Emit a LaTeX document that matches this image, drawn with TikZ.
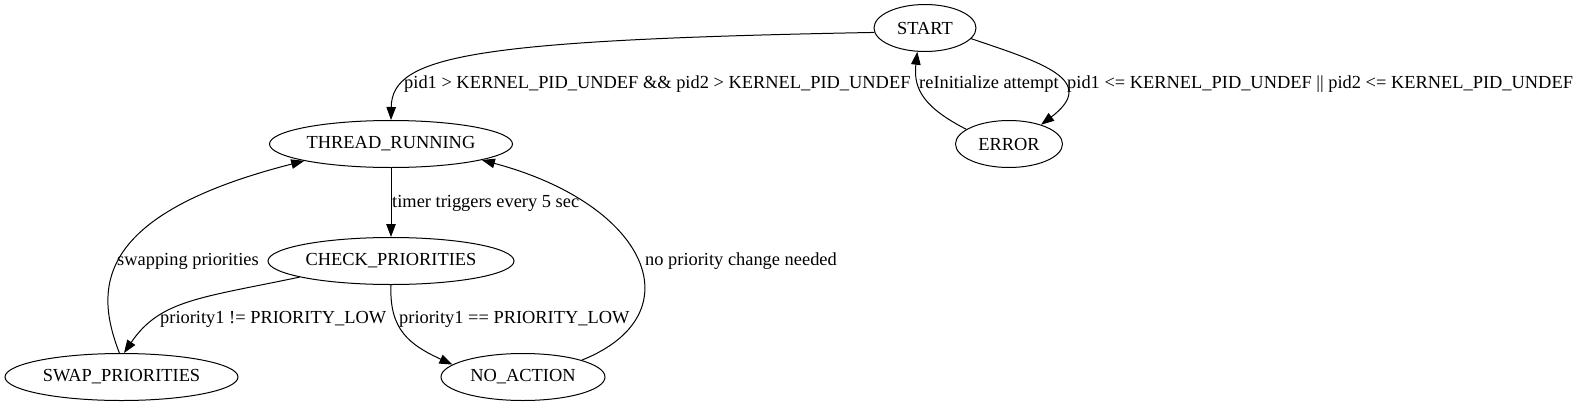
\documentclass[tikz,border=0pt]{standalone}
\usepackage{fontspec}
\setmainfont{Liberation Serif}
\usetikzlibrary{arrows.meta,shapes.geometric}
\tikzset{
    state/.style = {draw, ellipse, line width=1pt,
        minimum height=47pt, minimum width=#1, inner sep=0pt},
    lbl/.style = {anchor=west, inner sep=0pt},
    trans/.style = {-{Triangle[length=13pt,width=9.5pt]}, line width=1pt}
}

\begin{document}
\begin{tikzpicture}[x=1pt, y=-1pt, font=\fontsize{18.4}{21}\selectfont]
\useasboundingbox (0,0) rectangle (1577,407);

% states
\node[state=102pt, label=center:START] (start) at (925,28) {};
\node[state=107pt, label=center:ERROR] (error) at (1009,144) {};
\node[state=243pt, label=center:{THREAD\_RUNNING}] (run) at (391,144) {};
\node[state=246pt, label=center:{CHECK\_PRIORITIES}] (check) at (391,261) {};
\node[state=233pt, label=center:{SWAP\_PRIORITIES}] (swap) at (121.5,377) {};
\node[state=164pt, label=center:{NO\_ACTION}] (noact) at (523,377) {};

% transitions
\draw[trans] (start.185) .. controls (470,40) and (392,56) .. (run.north);
\draw[trans] (start.347) .. controls (1040,62) and (1100,80) .. (error.31);
\draw[trans] (error.161) .. controls (925,108) and (913,90) .. (start.252);
\draw[trans] (run.south) -- (check.north);
\draw[trans] (check.190) .. controls (200,298) and (160,300) .. (swap.84);
\draw[trans] (check.south) .. controls (389,330) and (410,345) .. (noact.170);
\draw[trans] (swap.95) .. controls (95,290) and (92,215) .. (run.191);
\draw[trans] (noact.16) .. controls (695,315) and (650,205) .. (run.350);

% labels
\node[lbl] (l1) at (404,84) {pid1 > KERNEL\_PID\_UNDEF \&\& pid2 > KERNEL\_PID\_UNDEF};
\node[lbl] (l2) at (1067,84) {pid1 <= KERNEL\_PID\_UNDEF || pid2 <= KERNEL\_PID\_UNDEF};
\node[lbl] (l3) at (919,84) {reInitialize attempt};
\node[lbl] (l4) at (392,203) {timer triggers every 5 sec};
\node[lbl] (l5) at (160,319) {priority1 != PRIORITY\_LOW};
\node[lbl] (l6) at (399,319) {priority1 == PRIORITY\_LOW};
\node[lbl] (l7) at (117,261) {swapping priorities};
\node[lbl] (l8) at (645,261) {no priority change needed};
\end{tikzpicture}
\end{document}
